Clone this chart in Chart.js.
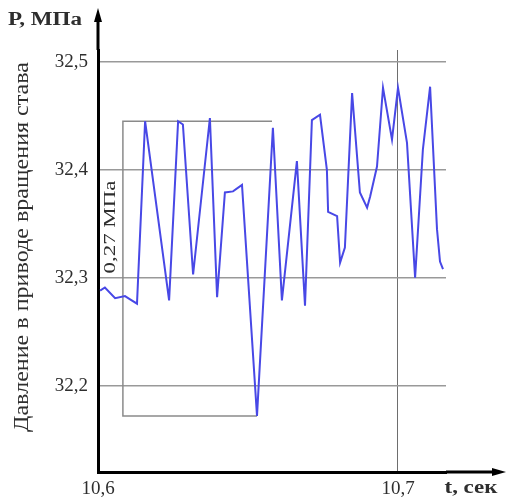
<!DOCTYPE html>
<html lang="ru">
<head>
<meta charset="UTF-8">
<script src="https://cdn.jsdelivr.net/npm/chart.js@4.4.0/dist/chart.umd.min.js"></script>
<title>Давление в приводе вращения става</title>
<style>
  html, body { margin: 0; padding: 0; background: #fff; }
</style>
</head>
<body>
<canvas id="chart" width="506" height="503"></canvas>
<script>
// values
const times = [10.6007, 10.6023, 10.6057, 10.609, 10.6107, 10.613, 10.6157, 10.6237, 10.6267, 10.6283,
  10.6317, 10.6373, 10.6397, 10.6423, 10.645, 10.648, 10.653, 10.6583, 10.6613, 10.6663,
  10.669, 10.6713, 10.674, 10.6763, 10.6767, 10.6797, 10.6807, 10.6823, 10.6847, 10.6873,
  10.6897, 10.6907, 10.693, 10.695, 10.698, 10.7, 10.703, 10.7057, 10.7083, 10.7107,
  10.713, 10.714, 10.715];
const pressure = [32.288, 32.291, 32.281, 32.283, 32.280, 32.276, 32.445, 32.279, 32.445, 32.442,
  32.303, 32.448, 32.282, 32.379, 32.380, 32.386, 32.172, 32.439, 32.279, 32.408,
  32.274, 32.446, 32.451, 32.400, 32.361, 32.357, 32.314, 32.328, 32.471, 32.379,
  32.365, 32.375, 32.403, 32.476, 32.428, 32.476, 32.425, 32.300, 32.419, 32.477,
  32.345, 32.315, 32.308];
const xTicks = [10.6, 10.7];
const yTicks = [32.2, 32.3, 32.4, 32.5];
// 0,27 MPa range marker
const rangeHigh = 32.445, rangeLow = 32.172;
const rangeStart = 10.6083, rangeEndHigh = 10.658, rangeEndLow = 10.653;

const serif = '"Liberation Serif"';
const textColor = '#2e2e2e';
const fmt = v => v.toFixed(1).replace('.', ',');

// draws text centred at (cx, cy), stretched to the given length
function label(ctx, text, font, cx, cy, len, angle) {
  ctx.save();
  ctx.font = font;
  ctx.fillStyle = textColor;
  ctx.textAlign = 'center';
  ctx.textBaseline = 'middle';
  ctx.translate(cx, cy);
  ctx.rotate(angle || 0);
  ctx.scale(len / ctx.measureText(text).width, 1);
  ctx.fillText(text, 0, 0);
  ctx.restore();
}

const extras = {
  id: 'extras',
  beforeDatasetsDraw(chart) {
    const { ctx, scales: { x, y } } = chart;
    ctx.save();
    ctx.strokeStyle = '#8a8a8a';
    ctx.lineWidth = 1.5;
    ctx.beginPath();
    ctx.moveTo(x.getPixelForValue(rangeEndHigh), y.getPixelForValue(rangeHigh));
    ctx.lineTo(x.getPixelForValue(rangeStart), y.getPixelForValue(rangeHigh));
    ctx.lineTo(x.getPixelForValue(rangeStart), y.getPixelForValue(rangeLow));
    ctx.lineTo(x.getPixelForValue(rangeEndLow), y.getPixelForValue(rangeLow));
    ctx.stroke();
    ctx.restore();
  },
  afterDraw(chart) {
    const { ctx, chartArea: a } = chart;
    ctx.save();
    ctx.strokeStyle = '#000';
    ctx.fillStyle = '#000';
    ctx.lineWidth = 3;
    // y axis arrow
    ctx.beginPath();
    ctx.moveTo(a.left, a.top);
    ctx.lineTo(a.left, 20);
    ctx.stroke();
    ctx.beginPath();
    ctx.moveTo(a.left, 8);
    ctx.lineTo(a.left - 4, 22);
    ctx.lineTo(a.left + 4, 22);
    ctx.closePath();
    ctx.fill();
    // x axis arrow
    ctx.beginPath();
    ctx.moveTo(a.right, a.bottom);
    ctx.lineTo(494, a.bottom);
    ctx.stroke();
    ctx.beginPath();
    ctx.moveTo(506, a.bottom);
    ctx.lineTo(492, a.bottom - 4);
    ctx.lineTo(492, a.bottom + 4);
    ctx.closePath();
    ctx.fill();
    ctx.restore();

    label(ctx, 'Р, МПа', 'bold 18px ' + serif, 45, 20, 74);
    label(ctx, 't, сек', 'bold 18px ' + serif, 471, 488, 53);
    label(ctx, 'Давление в приводе вращения става', '20px ' + serif, 23, 247, 370, -Math.PI / 2);
    label(ctx, '0,27 МПа', '17px ' + serif, 111, 227, 93, -Math.PI / 2);
  }
};

function draw() {
  new Chart(document.getElementById('chart'), {
    type: 'line',
    data: {
      datasets: [{
        data: times.map((t, i) => ({ x: t, y: pressure[i] })),
        borderColor: '#4848e6',
        borderWidth: 2,
        pointRadius: 0,
        tension: 0,
        fill: false
      }]
    },
    options: {
      responsive: false,
      animation: false,
      layout: { padding: { top: 50, right: 60, left: 0, bottom: 0 } },
      plugins: { legend: { display: false }, tooltip: { enabled: false } },
      scales: {
        x: {
          type: 'linear',
          min: 10.6,
          max: 10.716,
          afterBuildTicks: s => { s.ticks = xTicks.map(v => ({ value: v })); },
          afterFit: s => { s.height = 31; },
          ticks: {
            callback: v => fmt(v),
            font: { family: serif, size: 19 },
            color: textColor,
            padding: 6,
            maxRotation: 0,
            autoSkip: false
          },
          grid: {
            drawTicks: false,
            lineWidth: 1,
            color: c => (c.tick && c.tick.value === 10.7 ? '#6e6e6e' : 'rgba(0,0,0,0)')
          },
          border: { color: '#000', width: 3 }
        },
        y: {
          min: 32.12,
          max: 32.511,
          afterBuildTicks: s => { s.ticks = yTicks.map(v => ({ value: v })); },
          afterFit: s => { s.width = 98; },
          ticks: {
            callback: v => fmt(v),
            font: { family: serif, size: 19 },
            color: textColor,
            padding: 10
          },
          grid: { drawTicks: false, lineWidth: 1.5, color: '#999' },
          border: { color: '#000', width: 3 }
        }
      }
    },
    plugins: [extras]
  });
}

Promise.all([
  document.fonts.load('bold 18px "Liberation Serif"', 'Р,МПасек'),
  document.fonts.load('19px "Liberation Serif"', 'Давление0123456789')
]).then(draw, draw);
</script>
</body>
</html>
